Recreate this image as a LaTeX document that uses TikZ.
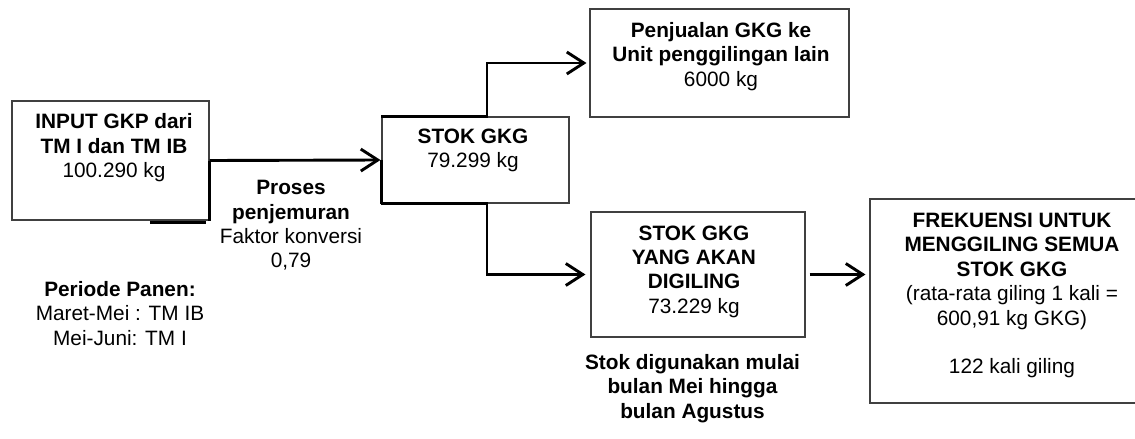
\documentclass[tikz,border=0pt]{standalone}
\usepackage{fontspec}
\setmainfont{Liberation Sans}
\usetikzlibrary{arrows.meta}
\begin{document}
\begin{tikzpicture}[x=1pt,y=-1pt,
  every node/.style={font=\fontsize{20.8}{24.4}\selectfont, text=black},
  box/.style={draw=black!75, line width=1.1pt, inner sep=0pt},
  txt/.style={align=center, inner sep=0pt},
  conn/.style={draw=black, line width=2.9pt},
  arr/.style={conn, -{Straight Barb[length=17pt,width=22pt,line width=2.9pt]}}
]
\clip (0,0) rectangle (1135,439);
\useasboundingbox (0,0) rectangle (1135,439);

% boxes
\node[box, minimum width=197pt, minimum height=119pt] (b1) at (110.5,160.5) {};
\node[box, minimum width=187pt, minimum height=86pt]  (b2) at (475.5,160) {};
\node[box, minimum width=259pt, minimum height=108pt] (b3) at (719.5,63) {};
\node[box, minimum width=214pt, minimum height=125pt] (b4) at (698,274.5) {};
\node[box, minimum width=320pt, minimum height=204pt] (b5) at (1030,301) {};

% texts
\node[txt] (t1) at (114,148) {\textbf{INPUT GKP dari}\\\textbf{TM I dan TM IB}\\100.290 kg};
\node[txt] (t2) at (291,225.5) {\textbf{Proses}\\\textbf{penjemuran}\\Faktor konversi\\0,79};
\node[txt] (t3) at (120,313.5) {\textbf{Periode Panen:}\\Maret-Mei : TM IB\\Mei-Juni: TM I};
\node[txt] (t4) at (473,150.5) {\textbf{STOK GKG}\\79.299 kg};
\node[txt] (t5) at (721,56.5) {\textbf{Penjualan GKG ke}\\\textbf{Unit penggilingan lain}\\6000 kg};
\node[txt] (t6) at (694,271.5) {\textbf{STOK GKG}\\\textbf{YANG AKAN}\\\textbf{DIGILING}\\73.229 kg};
\node[txt] (t7) at (692.5,388.5) {\textbf{Stok digunakan mulai}\\\textbf{bulan Mei hingga}\\\textbf{bulan Agustus}};
\node[txt] (t8) at (1012,295.5) {\textbf{FREKUENSI UNTUK}\\\textbf{MENGGILING SEMUA}\\\textbf{STOK GKG}\\(rata-rata giling 1 kali =\\600,91 kg GKG)\\[24.4pt]122 kali giling};

% connectors
\coordinate (k) at (487,0);
\draw[arr, shorten >=1pt] (b1.east) -- (b2.west);
\draw[conn] (b1.east) -- (b1.south east);
\draw[conn] (b1.south east) ++(-4,1.5) coordinate (s1) -- (s1 -| 150,0);
\draw[conn] (b2.west) -- (b2.south west);
\draw[arr, shorten >=3pt] (b2.north west) -- (b2.north west -| k) |- (b3.west);
\draw[arr, shorten >=5pt] (b2.south west) -- (b2.south west -| k) |- (b4.west);
\draw[arr, shorten <=4pt, shorten >=4pt] (b4.east) -- (b4.east -| b5.west);
\end{tikzpicture}
\end{document}
